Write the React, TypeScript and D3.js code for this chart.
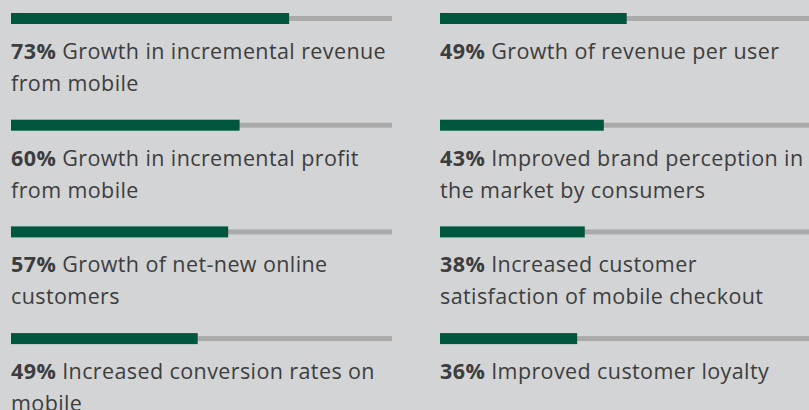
import { useMemo } from "react";
import * as d3 from "d3";

const percents = [73, 60, 57, 49, 49, 43, 38, 36];
const labels = [
  ["Growth in incremental revenue", "from mobile"],
  ["Growth in incremental profit", "from mobile"],
  ["Growth of net-new online", "customers"],
  ["Increased conversion rates on", "mobile"],
  ["Growth of revenue per user"],
  ["Improved brand perception in", "the market by consumers"],
  ["Increased customer", "satisfaction of mobile checkout"],
  ["Improved customer loyalty"],
];

const W = 809;
const H = 410;
const trackW = 381;
const rowsPerCol = 4;

export default function App() {
  const { colX, rowY, x } = useMemo(() => {
    const colX = d3.scaleOrdinal<number, number>().domain([0, 1]).range([11, 440]);
    const rowY = d3.scaleLinear().domain([0, 1]).range([13, 119.7]);
    const x = d3.scaleLinear().domain([0, 100]).range([0, trackW]);
    return { colX, rowY, x };
  }, []);

  return (
    <svg
      width={W}
      height={H}
      style={{ position: "absolute", left: 0, top: 0, background: "#d3d4d6" }}
      fontFamily="'Open Sans', sans-serif"
    >
      {percents.map((p, i) => {
        const col = Math.floor(i / rowsPerCol);
        const row = i % rowsPerCol;
        const gx = colX(col);
        const gy = rowY(row);
        return (
          <g key={i} transform={`translate(${gx},${gy})`}>
            <rect x={0} y={3} width={x(100)} height={5} fill="#aaaaaa" />
            <rect x={0} y={0} width={x(p)} height={11} fill="#00573f" />
            <text y={46} fontSize={21.5} letterSpacing={0.4} fill="#3d3d3d">
              <tspan fontWeight={700}>{p}%</tspan>
              <tspan> {labels[i][0]}</tspan>
            </text>
            {labels[i][1] && (
              <text y={78} fontSize={21.5} letterSpacing={0.4} fill="#3d3d3d">
                {labels[i][1]}
              </text>
            )}
          </g>
        );
      })}
    </svg>
  );
}
